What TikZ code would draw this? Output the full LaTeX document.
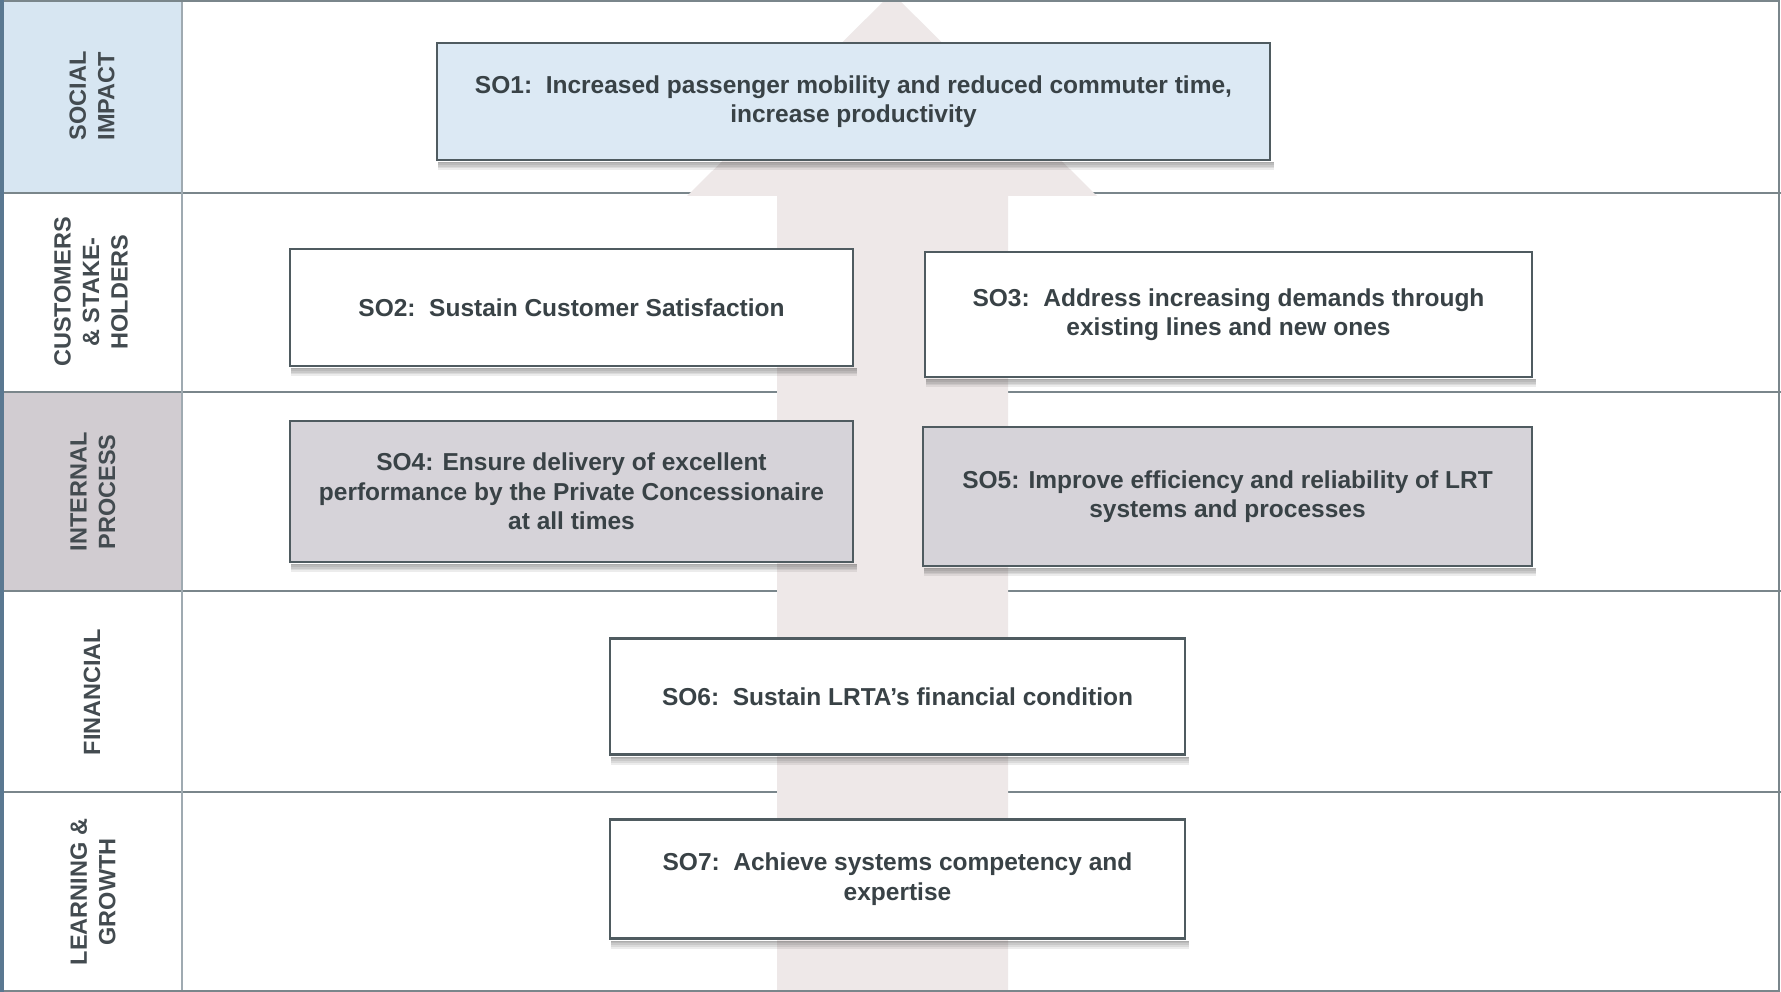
\documentclass[tikz,border=0pt]{standalone}
\usepackage{fontspec}
\setmainfont{Liberation Sans}

\definecolor{edgeC}{HTML}{4F5B60}
\definecolor{rowline}{HTML}{7A868B}
\definecolor{colline}{HTML}{9FAAB1}
\definecolor{txtC}{HTML}{394246}
\definecolor{labC}{HTML}{434B50}
\definecolor{arrowC}{HTML}{EEE8E8}
\definecolor{blueC}{HTML}{D7E6F2}
\definecolor{blueBox}{HTML}{DCE9F4}
\definecolor{mauveC}{HTML}{D6D3D9}
\definecolor{mauveCell}{HTML}{D1CCD1}
\definecolor{sideC}{HTML}{5A7891}

\newcommand\objfont{\bfseries\fontsize{24.5}{29.5}\selectfont}
\newcommand\labfont{\bfseries\fontsize{23.5}{28.5}\selectfont}
\newcommand\twosp{\hspace{0.556em}}

\begin{document}
\begin{tikzpicture}[x=1pt,y=-1pt,
  objbox/.style={draw=edgeC, line width=2.4pt, fill=white, text=txtC,
    font=\objfont, align=center, inner sep=0pt},
  bluebox/.style={objbox, fill=blueBox},
  greybox/.style={objbox, fill=mauveC},
  lane/.style={text=labC, font=\labfont, align=center, rotate=90, inner sep=0pt},
  rowrule/.style={draw=rowline, line width=2.4pt},
  shadowlayer/.style={fill=black, opacity=0.075}
]
\useasboundingbox (0,0) rectangle (1781,992);
\fill[white] (0,0) rectangle (1781,992);

% lane heading cells
\fill[blueC] (0,0) rectangle (182,193);
\fill[mauveCell] (0,392) rectangle (182,591);

% lane rules and heading column
\foreach \yy in {193,392,591,792}
  \draw[rowrule] (0,\yy) -- (1781,\yy);
\draw[colline, line width=1.6pt] (182,0) -- (182,992);

% upward arrow behind the objectives
\fill[arrowC] (892,-7) -- (1097,196) -- (1008,196) -- (1008,992)
  -- (777,992) -- (777,196) -- (687,196) -- cycle;

% outer frame
\draw[rowline, line width=2pt] (1,1) rectangle (1779,991);
\draw[sideC, line width=4pt] (2,0) -- (2,992);

% strategic objectives
\node[bluebox, minimum width=833pt, minimum height=117pt] (so1) at (853.5,101.5)
  {SO1:\twosp Increased passenger mobility and reduced commuter time,\\increase productivity};
\node[objbox, minimum width=563pt, minimum height=117pt] (so2) at (571.5,307.5)
  {SO2:\twosp Sustain Customer Satisfaction};
\node[objbox, minimum width=607pt, minimum height=125pt] (so3) at (1228.5,314.5)
  {SO3:\twosp Address increasing demands through\\existing lines and new ones};
\node[greybox, minimum width=563pt, minimum height=141pt] (so4) at (571.5,491.5)
  {SO4: Ensure delivery of excellent\\performance by the Private Concessionaire\\at all times};
\node[greybox, minimum width=609pt, minimum height=139pt] (so5) at (1227.5,496.5)
  {SO5: Improve efficiency and reliability of LRT\\systems and processes};
\node[objbox, minimum width=575pt, minimum height=116pt] (so6) at (897.5,696.5)
  {SO6:\twosp Sustain LRTA’s financial condition};
\node[objbox, minimum width=575pt, minimum height=119pt] (so7) at (897.5,879)
  {SO7:\twosp Achieve systems competency and\\expertise};

% soft shadows under the objective boxes
\foreach \b in {so1,so2,so3,so4,so5,so6,so7}
  \foreach \i in {1,...,5}
    \fill[shadowlayer] ([xshift=2pt,yshift=-1pt]\b.south west)
      rectangle ([xshift=3pt,yshift={-1.8pt*\i}]\b.south east);

% lane headings
\node[lane] (l1) at (92,96)  {SOCIAL\\IMPACT};
\node[lane] (l2) at (91,292) {CUSTOMERS\\\& STAKE-\\HOLDERS};
\node[lane] (l3) at (93,492) {INTERNAL\\PROCESS};
\node[lane] (l4) at (92,692) {FINANCIAL};
\node[lane] (l5) at (93,892) {LEARNING \&\\GROWTH};
\end{tikzpicture}
\end{document}
